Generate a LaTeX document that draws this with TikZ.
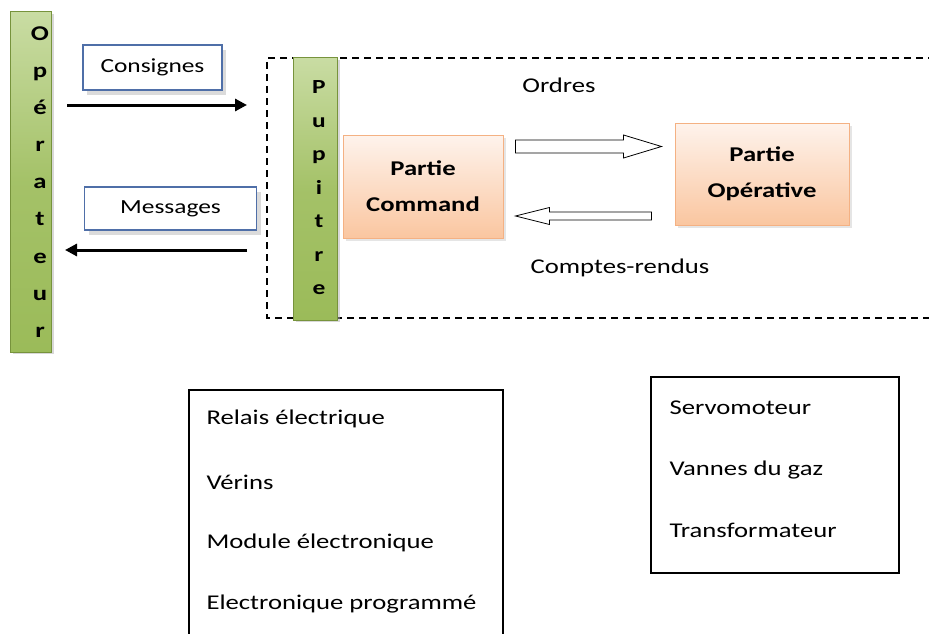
\documentclass[tikz,border=0pt]{standalone}
\usepackage{fontspec}
\setmainfont{Carlito}[FakeStretch=1.27]
\usetikzlibrary{shadows,arrows.meta,calc}
\definecolor{gtop}{HTML}{C9DCA3}
\definecolor{gbot}{HTML}{9BBB59}
\definecolor{gline}{HTML}{77933C}
\definecolor{otop}{HTML}{FEF3EC}
\definecolor{obot}{HTML}{FAC6A0}
\definecolor{oline}{HTML}{F4B183}
\definecolor{bline}{HTML}{4F6FA8}
\tikzset{
  greenbar/.style={draw=gline, line width=1pt, top color=gtop, bottom color=gbot, middle color=gbot!80!gtop,
    drop shadow={shadow xshift=2pt, shadow yshift=-2pt, fill=gray!60}},
  partbox/.style={draw=oline, line width=1pt, top color=otop, bottom color=obot,
    drop shadow={shadow xshift=3pt, shadow yshift=-3pt, fill=gray!40}, font=\fontsize{21}{36}\selectfont\bfseries, align=center},
  msgbox/.style={draw=bline, line width=1.2pt, fill=white,
    drop shadow={shadow xshift=4pt, shadow yshift=-5pt, fill=gray!55}, font=\fontsize{20}{24}\selectfont},
  lbl/.style={font=\fontsize{21}{25}\selectfont},
  letters/.style={align=center, inner sep=0pt},
  blockarrow/.style={draw=black, line width=0.8pt, fill=white},
  flow/.style={line width=3pt, -{Triangle[length=12pt,width=12pt]}},
  listbox/.style={draw=black, line width=1.2pt},
}
\begin{document}
\begin{tikzpicture}[x=1pt,y=-1pt]
\useasboundingbox (0,0) rectangle (929,634);
\fill[white] (0,0) rectangle (929,634);
% dashed frame
\draw[line width=1.5pt, dash pattern=on 7pt off 5pt] (935,58) -- (267,58) -- (267,318) -- (935,318);
% Operateur
\node[greenbar, minimum width=41pt, minimum height=340pt, inner sep=0pt] (op) at (31,182) {};
\node[letters, font=\fontsize{21}{37.1}\selectfont\bfseries] (optext) at (40,182) {O\\p\\é\\r\\a\\t\\e\\u\\r};
% Pupitre
\node[greenbar, minimum width=44pt, minimum height=262pt, inner sep=0pt] (pu) at (315.5,189) {};
\node[letters, font=\fontsize{20}{33.5}\selectfont\bfseries] (putext) at (319,188) {P\\u\\p\\i\\t\\r\\e};
% Consignes / Messages
\node[msgbox, minimum width=139pt, minimum height=45pt] (cons) at (152.5,67.5) {Consignes};
\node[msgbox, minimum width=172pt, minimum height=43pt] (mess) at (170.5,208.5) {Messages};
\coordinate (c1) at (67,105);
\coordinate (c2) at (247,105);
\coordinate (m1) at (247,250);
\coordinate (m2) at (65,250);
\draw[flow] (c1) -- (c2);
\draw[flow] (m1) -- (m2);
% Parties
\node[partbox, minimum width=160pt, minimum height=103pt] (pc) at (423,186.5) {Partie\\Command};
\node[partbox, minimum width=174pt, minimum height=102pt] (po) at (762,174) {Partie\\Opérative};
% block arrows
\draw[blockarrow] ($(pc.east)+(12,-46.5)$) -- ++(108,0) -- ++(0,-5) -- ++(38,11.5) -- ++(-38,11.5) -- ++(0,-5) -- ++(-108,0) -- cycle;
\draw[blockarrow] ($(po.west)+(-23,38)$) -- ++(-102,0) -- ++(0,-4.5) -- ++(-34,8.5) -- ++(34,8.5) -- ++(0,-4.5) -- ++(102,0) -- cycle;
\node[lbl] (ordres) at (559,85) {Ordres};
\node[lbl] (cr) at (620,268) {Comptes-rendus};
% bottom lists
\draw[listbox] (189,634) -- (189,390) -- (503,390) -- (503,634);
\node[lbl, anchor=west] (l1) at (203,419) {Relais électrique};
\node[lbl, anchor=west] (l2) at (203,482) {Vérins};
\node[lbl, anchor=west] (l3) at (203,543) {Module électronique};
\node[lbl, anchor=west] (l4) at (203,604) {Electronique programmé};
\node[listbox, minimum width=248pt, minimum height=196pt] (rbox) at (775,475) {};
\node[lbl, anchor=west] (r1) at (666,408) {Servomoteur};
\node[lbl, anchor=west] (r2) at (666,470) {Vannes du gaz};
\node[lbl, anchor=west] (r3) at (666,530) {Transformateur};
\end{tikzpicture}
\end{document}
